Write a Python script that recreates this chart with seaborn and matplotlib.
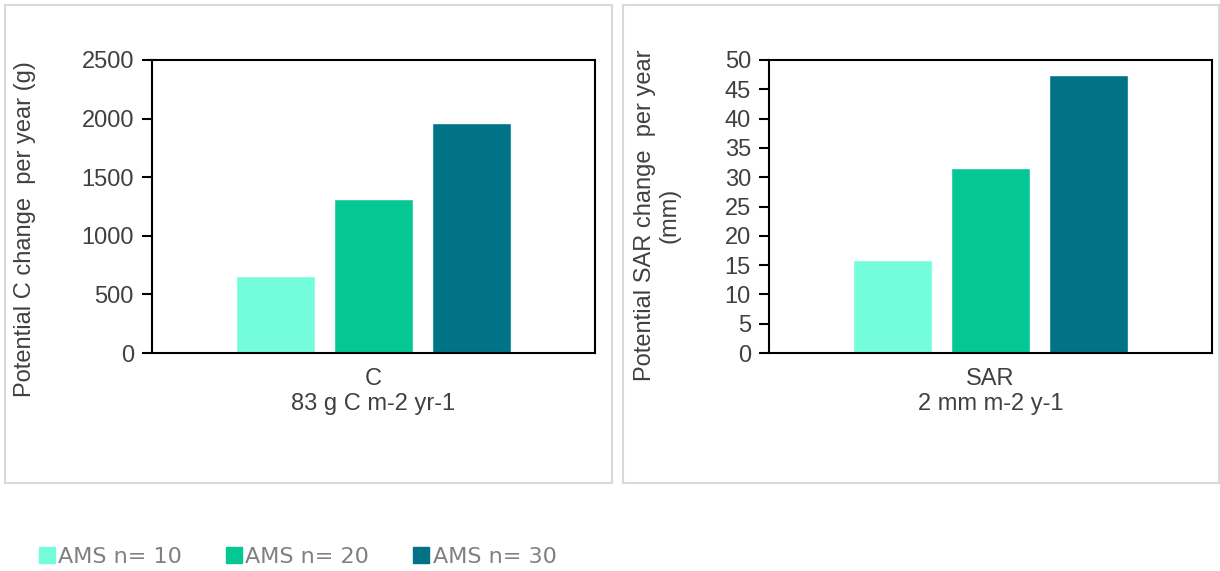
import pandas as pd
import numpy as np
import matplotlib.pyplot as plt
import seaborn as sns
from matplotlib.patches import Rectangle
from matplotlib.lines import Line2D

# data
groups = ['AMS n= 10', 'AMS n= 20', 'AMS n= 30']
colors = ['#73FDDA', '#05C794', '#007386']

c_values = [655, 1310, 1965]
sar_values = [15.8, 31.6, 47.4]

c_cat = 'C'
c_sub = '83 g C m-2 yr-1'
sar_cat = 'SAR'
sar_sub = '2 mm m-2 y-1'

c_ticks = [0, 500, 1000, 1500, 2000, 2500]
sar_ticks = list(range(0, 55, 5))

df_c = pd.DataFrame({'cat': [c_cat] * 3, 'group': groups, 'val': c_values})
df_sar = pd.DataFrame({'cat': [sar_cat] * 3, 'group': groups, 'val': sar_values})

sns.set_style('white')
plt.rcParams['font.family'] = ['Liberation Sans', 'DejaVu Sans']
txt = '#404040'
fs = 17

W, H = 1220, 571
fig = plt.figure(figsize=(W / 100, H / 100), dpi=100)

# panel frames
for x0, x1 in [(5, 612), (623, 1219)]:
    fig.patches.append(Rectangle((x0 / W, 1 - 483 / H), (x1 - x0) / W, 478 / H,
                                 transform=fig.transFigure, fill=False,
                                 edgecolor='#d9d9d9', linewidth=1.5))

def panel(left, df, ticks, cat, sub):
    ax = fig.add_axes([left / W, (H - 353) / H, 443 / W, 293 / H])
    sns.barplot(data=df, x='cat', y='val', hue='group', palette=colors,
                width=0.664, gap=0.2, ax=ax, saturation=1)
    ax.legend_.remove()
    ax.set_ylim(ticks[0], ticks[-1])
    ax.set_yticks(ticks)
    ax.set_xlim(-0.5, 0.5)
    ax.set_xticks([0])
    ax.set_xticklabels([f'{cat}\n{sub}'], linespacing=1.15)
    ax.set_xlabel('')
    ax.set_ylabel('')
    for s in ax.spines.values():
        s.set_visible(True)
        s.set_color('black')
        s.set_linewidth(1.5)
    ax.tick_params(axis='y', length=7, width=1.5, color='black', labelsize=fs,
                   labelcolor=txt, pad=6, left=True)
    ax.tick_params(axis='x', length=0, labelsize=fs, labelcolor=txt, pad=11)
    return ax

ax1 = panel(152, df_c, c_ticks, c_cat, c_sub)
ax2 = panel(769, df_sar, sar_ticks, sar_cat, sar_sub)

fig.text(25 / W, 1 - 229 / H, 'Potential C change  per year (g)', rotation=90,
         ha='center', va='center', fontsize=fs, color=txt)
fig.text(657 / W, 1 - 215 / H, 'Potential SAR change  per year\n(mm)', rotation=90,
         ha='center', va='center', fontsize=fs, color=txt, multialignment='center',
         linespacing=1.15)

handles = [Line2D([], [], marker='s', linestyle='', markersize=11,
                  markerfacecolor=c, markeredgecolor=c) for c in colors]
fig.legend(handles, groups, loc='center left', bbox_to_anchor=(17 / W, 1 - 557 / H),
           ncol=3, frameon=False, labelcolor='#808080',
           handletextpad=0.05, columnspacing=1.9, handlelength=0.9,
           prop={'family': 'DejaVu Sans', 'size': 16})

fig.savefig('out.png', dpi=100)
